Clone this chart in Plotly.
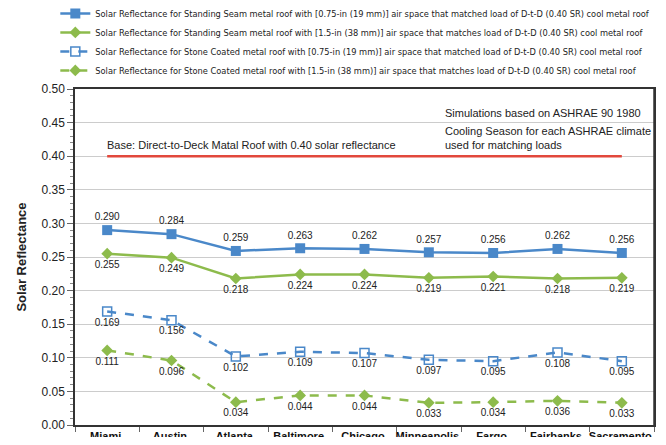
import plotly.graph_objects as go

cities = ["Miami,", "Austin,", "Atlanta,", "Baltimore,", "Chicago,",
          "Minneapolis,", "Fargo,", "Fairbanks,", "Sacramento,"]
ss_075 = [0.290, 0.284, 0.259, 0.263, 0.262, 0.257, 0.256, 0.262, 0.256]
ss_150 = [0.255, 0.249, 0.218, 0.224, 0.224, 0.219, 0.221, 0.218, 0.219]
sc_075 = [0.169, 0.156, 0.102, 0.109, 0.107, 0.097, 0.095, 0.108, 0.095]
sc_150 = [0.111, 0.096, 0.034, 0.044, 0.044, 0.033, 0.034, 0.036, 0.033]
base = [0.40] * len(cities)

names = [
    "Solar Reflectance for Standing Seam metal roof with [0.75-in (19 mm)] air space that matched load of D-t-D (0.40 SR) cool metal roof",
    "Solar Reflectance for Standing Seam metal roof with [1.5-in (38 mm)] air space that matches load of D-t-D (0.40 SR) cool metal roof",
    "Solar Reflectance for Stone Coated metal roof with [0.75-in (19 mm)] air space that matched load of D-t-D (0.40 SR) cool metal roof",
    "Solar Reflectance for Stone Coated metal roof with [1.5-in (38 mm)] air space that matches load of D-t-D (0.40 SR) cool metal roof",
]

blue = "#4a88c9"
green = "#8dbb4c"
red = "#e2483c"
narrow = "DejaVu Sans Condensed, Liberation Sans Narrow, Liberation Sans, sans-serif"
sans = "Liberation Sans, Arial, sans-serif"
lblfont = dict(family=sans, size=10, color="#222")

fig = go.Figure()
fig.add_trace(go.Scatter(x=cities, y=base, mode="lines", line=dict(color=red, width=2.5),
                         showlegend=False, hoverinfo="skip"))
fig.add_trace(go.Scatter(x=cities, y=ss_075, name=names[0], mode="lines+markers+text",
                         line=dict(color=blue, width=2.5),
                         marker=dict(symbol="square", size=10, color=blue),
                         text=[f"{v:.3f}" for v in ss_075], textposition="top center",
                         textfont=lblfont))
fig.add_trace(go.Scatter(x=cities, y=ss_150, name=names[1], mode="lines+markers+text",
                         line=dict(color=green, width=2.5),
                         marker=dict(symbol="diamond", size=9, color=green),
                         text=[f"{v:.3f}" for v in ss_150], textposition="bottom center",
                         textfont=lblfont))
fig.add_trace(go.Scatter(x=cities, y=sc_075, name=names[2], mode="lines+markers+text",
                         line=dict(color=blue, width=2.5, dash="dash"),
                         marker=dict(symbol="square-open", size=9, color=blue, line=dict(width=1.5)),
                         text=[f"{v:.3f}" for v in sc_075], textposition="bottom center",
                         textfont=lblfont))
fig.add_trace(go.Scatter(x=cities, y=sc_150, name=names[3], mode="lines+markers+text",
                         line=dict(color=green, width=2.5, dash="dash"),
                         marker=dict(symbol="diamond", size=9, color=green),
                         text=[f"{v:.3f}" for v in sc_150], textposition="bottom center",
                         textfont=lblfont))

fig.add_annotation(x=0.052, y=0.40, xref="paper", yref="y", xanchor="left", yanchor="bottom", yshift=3,
                   text="Base: Direct-to-Deck Matal Roof with 0.40 solar reflectance",
                   showarrow=False, font=dict(family=sans, size=11, color="#222"))
fig.add_annotation(x=0.635, y=0.45, xref="paper", yref="y", xanchor="left", yanchor="bottom", yshift=2,
                   text="Simulations based on ASHRAE 90 1980",
                   showarrow=False, font=dict(family=sans, size=11, color="#222"))
fig.add_annotation(x=0.635, y=0.40, xref="paper", yref="y", xanchor="left", yanchor="bottom", yshift=3,
                   text="Cooling Season for each ASHRAE climate<br>used for matching loads", align="left",
                   showarrow=False, font=dict(family=sans, size=11, color="#222"))
# y-axis title
fig.add_annotation(x=-0.094, y=0.5, xref="paper", yref="paper", xanchor="center", yanchor="middle",
                   textangle=-90, text="<b>Solar Reflectance</b>", showarrow=False,
                   font=dict(family=sans, size=13, color="#222"))
# right frame edge
fig.add_shape(type="line", xref="paper", yref="paper", x0=1, x1=1, y0=0, y1=1,
              line=dict(color="#333", width=1.5))

fig.update_layout(
    width=650, height=429,
    margin=dict(l=67, r=4, t=81, b=12, autoexpand=False),
    paper_bgcolor="white", plot_bgcolor="white",
    font=dict(family=sans, size=11, color="#222"),
    legend=dict(x=-0.034, y=1.268, xanchor="left", yanchor="top",
                font=dict(family=narrow, size=9.2), tracegroupgap=0,
                bgcolor="rgba(0,0,0,0)"),
    xaxis=dict(showline=True, linecolor="#333", linewidth=1.5, mirror=True,
               ticks="outside", tickson="boundaries", ticklen=5, tickcolor="#666",
               tickangle=0,
               tickfont=dict(family=sans, size=11, color="#111", weight="bold"),
               showgrid=False, range=[-0.5, 8.5]),
    yaxis=dict(range=[0, 0.5], dtick=0.05, tickformat=".2f",
               showline=True, linecolor="#333", linewidth=1.5, mirror=True,
               ticks="outside", ticklen=6, tickcolor="#666",
               minor=dict(dtick=0.01, ticks="outside", ticklen=3, tickcolor="#888"),
               gridcolor="#cccccc", gridwidth=1,
               tickfont=dict(family=sans, size=12, color="#222")),
)

fig.write_html("out.html")
